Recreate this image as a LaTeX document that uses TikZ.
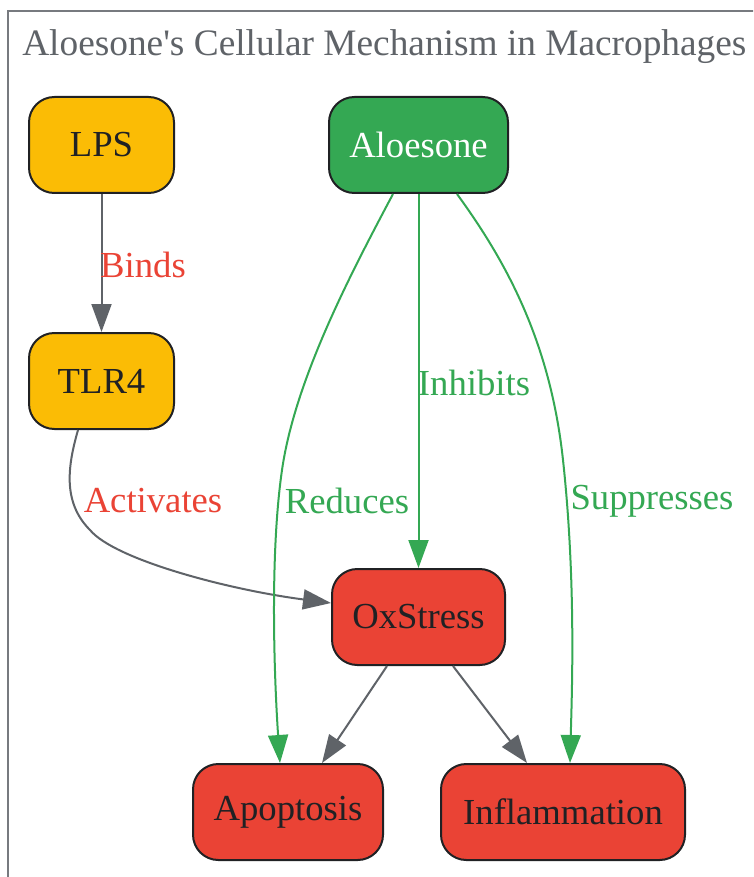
\documentclass[tikz,border=0pt]{standalone}
\usepackage{fontspec}
\setmainfont{Liberation Serif}
\newfontfamily\plainserif{Liberation Serif}[Ligatures=TeXOff]
\usetikzlibrary{arrows.meta,calc}
\definecolor{gyel}{HTML}{FBBC05}
\definecolor{ggrn}{HTML}{34A853}
\definecolor{gred}{HTML}{EA4335}
\definecolor{ggry}{HTML}{5F6368}
\definecolor{gtxt}{HTML}{202124}
\tikzset{
  box/.style={draw=gtxt, line width=1.5pt, rounded corners=19pt, minimum height=72pt,
    text=gtxt, font=\fontsize{27.5}{33}\selectfont, inner sep=0pt},
  grayedge/.style={draw=ggry, line width=1.5pt, -{Triangle[length=21pt,width=15pt]}},
  greenedge/.style={draw=ggrn, line width=1.5pt, -{Triangle[length=21pt,width=15pt]}},
  elabel/.style={font=\fontsize{27.5}{33}\selectfont, inner sep=0pt},
}
\begin{document}
\begin{tikzpicture}[x=0.75pt,y=-0.75pt]
\clip (0,0) rectangle (753,877);
\fill[white] (0,0) rectangle (753,877);
\draw[ggry!85, line width=1.5pt] (8,11) rectangle (900,1000);
\node[anchor=base west, text=ggry, font=\plainserif\fontsize{28}{33}\selectfont, inner sep=0pt] (title) at (22,56) {Aloesone's Cellular Mechanism in Macrophages};

\node[box, fill=gyel, minimum width=108.75pt] (lps) at (101.5,145) {LPS};
\node[box, fill=ggrn, text=white, minimum width=134.25pt] (alo) at (418.5,145) {Aloesone};
\node[box, fill=gyel, minimum width=108.75pt] (tlr) at (101.5,381) {TLR4};
\node[box, fill=gred, minimum width=129.75pt] (oxs) at (418.5,617) {OxStress};
\node[box, fill=gred, minimum width=142.5pt] (apo) at (288,812) {Apoptosis};
\node[box, fill=gred, minimum width=183pt] (inf) at (563,812) {Inflammation};

\draw[grayedge] (lps.south) -- (tlr.north);
\draw[grayedge] ($(tlr.south)+(-23.5,0)$) .. controls (68,465) and (62,502) .. (90,530)
   .. controls (115,560) and (230,590) .. ($(oxs.west)+(0,-14)$);
\draw[greenedge] (alo.south) -- (oxs.north);
\draw[greenedge] ($(alo.south)+(-25.5,0)$) .. controls (350,275) and (295,380) .. (282,470)
   .. controls (269,560) and (275,690) .. ($(apo.north)+(-8,0)$);
\draw[greenedge] ($(alo.south)+(38.5,0)$) .. controls (505,260) and (550,340) .. (563,460)
   .. controls (576,580) and (572,690) .. ($(inf.north)+(7,0)$);
\draw[grayedge] ($(oxs.south)+(-31.5,0)$) -- ($(apo.north)+(34,0)$);
\draw[grayedge] ($(oxs.south)+(34.5,0)$) -- ($(inf.north)+(-36,0)$);

\node[elabel, text=gred] (lbinds) at (143,265) {Binds};
\node[elabel, text=gred] (lact) at (153,501) {Activates};
\node[elabel, text=ggrn] (linh) at (474,383) {Inhibits};
\node[elabel, text=ggrn] (lred) at (347,501) {Reduces};
\node[elabel, text=ggrn] (lsup) at (652,501) {Suppresses};
\end{tikzpicture}
\end{document}
